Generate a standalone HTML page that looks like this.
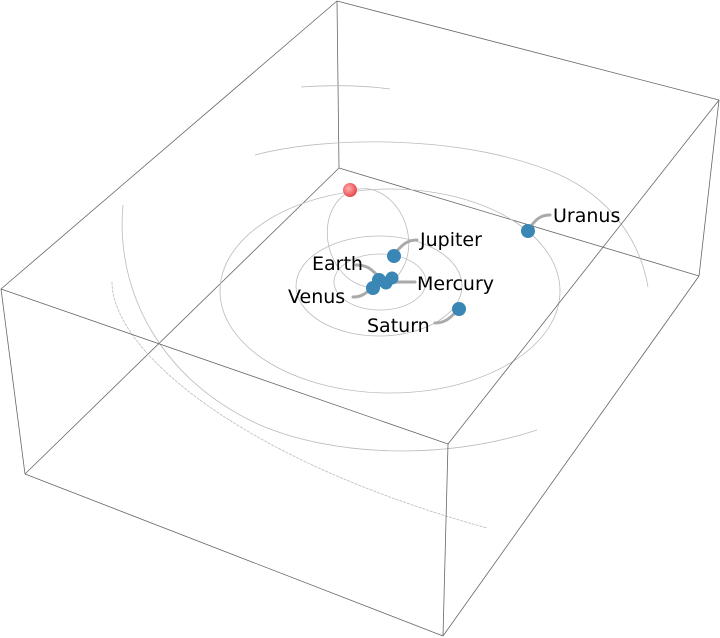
<!DOCTYPE html>
<html><head><meta charset="utf-8"><style>
html,body{margin:0;padding:0;background:#fff;}
svg{display:block;}
text{font-family:"DejaVu Sans","Liberation Sans",sans-serif;font-size:19px;fill:#000;}
</style></head><body>
<svg width="720" height="638" viewBox="0 0 720 638" xmlns="http://www.w3.org/2000/svg">
<defs>
<radialGradient id="sun" cx="0.4" cy="0.4" r="0.6">
<stop offset="0" stop-color="#ffb0b0"/><stop offset="1" stop-color="#e8484c"/>
</radialGradient>
</defs>
<g stroke="#666" stroke-width="0.8" fill="none">
<line x1="337" y1="1" x2="339" y2="168"/>
<line x1="339" y1="168" x2="699" y2="276"/>
<line x1="339" y1="168" x2="25" y2="474"/>
</g>
<g stroke="#bbb" stroke-width="0.8" fill="none">
<ellipse cx="380" cy="282" rx="46" ry="28"/>
<ellipse cx="379" cy="286" rx="83" ry="50"/>
<ellipse cx="368" cy="238" rx="40" ry="50" transform="rotate(-15 368 238)"/>
<ellipse cx="390" cy="291" rx="170" ry="102"/>
<path d="M255,155 C330,135 470,135 560,175 C610,198 640,240 648,287"/>
<path d="M123,205 C115,290 160,380 260,425 C330,455 440,462 537,430"/>
<path d="M112,282 C112,350 240,460 487,528" stroke-dasharray="3,1"/>
<path d="M301,87 C330,85 360,85 390,89"/>
</g>
<g stroke="#666" stroke-width="0.8" fill="none">
<line x1="337" y1="1" x2="719" y2="100"/>
<line x1="337" y1="1" x2="1" y2="289"/>
<line x1="719" y1="100" x2="699" y2="276"/>
<line x1="719" y1="100" x2="448" y2="444"/>
<line x1="1" y1="289" x2="448" y2="444"/>
<line x1="1" y1="289" x2="25" y2="474"/>
<line x1="25" y1="474" x2="443" y2="636"/>
<line x1="448" y1="444" x2="443" y2="636"/>
<line x1="699" y1="276" x2="443" y2="636"/>
</g>
<g stroke="#aaa" stroke-width="3" fill="none" stroke-linecap="round">
<path d="M531,226 C537,218 542,215 550,215"/>
<path d="M397,251 C403,244 408,240 417,240"/>
<path d="M356,265 C368,265 372,270 378,276"/>
<path d="M392,282 L415,282"/>
<path d="M353,297 C362,297 366,293 372,288"/>
<path d="M435,323 C445,323 450,318 456,312"/>
</g>
<circle cx="350" cy="190" r="7" fill="url(#sun)"/>
<g fill="#3a87b5">
<circle cx="528" cy="231" r="7"/>
<circle cx="394" cy="256" r="7"/>
<circle cx="459" cy="309" r="7"/>
<circle cx="379" cy="280" r="7"/>
<circle cx="392" cy="278" r="6.5"/>
<circle cx="386" cy="283" r="6.5"/>
<circle cx="373" cy="288" r="7"/>
</g>
<text x="553" y="222">Uranus</text>
<text x="420" y="246">Jupiter</text>
<text x="312" y="270">Earth</text>
<text x="417" y="290">Mercury</text>
<text x="288" y="303">Venus</text>
<text x="367" y="332">Saturn</text>
</svg>
</body></html>
